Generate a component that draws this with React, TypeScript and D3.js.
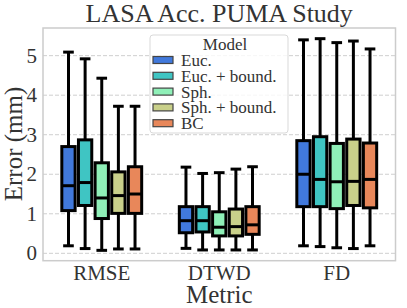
import React from "react";
import * as d3 from "d3";

const metrics = ["RMSE", "DTWD", "FD"];
const models = ["Euc.", "Euc. + bound.", "Sph.", "Sph. + bound.", "BC"];
const colors = ["#4179dc", "#3fc5c3", "#8ff0b8", "#c9d08a", "#e8875a"];

// per metric, per model
const whiskLow = [
  [0.19, 0.12, 0.075, 0.11, 0.11],
  [0.125, 0.085, 0.085, 0.085, 0.085],
  [0.19, 0.17, 0.14, 0.12, 0.19],
];
const q1 = [
  [1.08, 1.21, 0.88, 1.01, 1.01],
  [0.52, 0.54, 0.44, 0.44, 0.48],
  [1.18, 1.18, 1.13, 1.21, 1.15],
];
const medians = [
  [1.71, 1.79, 1.4, 1.46, 1.5],
  [0.825, 0.825, 0.66, 0.675, 0.72],
  [2.0, 1.87, 1.81, 1.82, 1.87],
];
const q3 = [
  [2.7, 2.87, 2.29, 2.06, 2.19],
  [1.18, 1.18, 1.05, 1.12, 1.18],
  [2.85, 2.95, 2.78, 2.89, 2.79],
];
const whiskHigh = [
  [5.09, 4.92, 4.43, 3.72, 3.72],
  [2.18, 2.02, 2.04, 2.13, 2.19],
  [5.4, 5.43, 5.33, 5.37, 5.17],
];
const yTicks = [0, 1, 2, 3, 4, 5];

const W = 407, H = 308;
const left = 43, right = 395.5, top = 28, bottom = 260.7;
const serif = { fontFamily: "'Liberation Serif', 'Times New Roman', Times, serif" };

export default function App() {
  const x = d3.scaleBand().domain(metrics).range([left, right]).paddingInner(0.292).paddingOuter(0.146);
  const xi = d3.scaleBand().domain(models).range([0, x.bandwidth()]).paddingInner(0.2).paddingOuter(0.1);
  const y = d3.scaleLinear().domain([-0.187, 5.7]).range([bottom, top]);
  const midX = (left + right) / 2;

  return (
    <svg width={W} height={H} style={{ position: "absolute", left: 0, top: 0, background: "#fff" }}>
      {/* grid */}
      {yTicks.map((t) => (
        <line key={t} x1={left} x2={right} y1={y(t)} y2={y(t)} stroke="#cfcfcf" strokeWidth={1} strokeDasharray="4,2" />
      ))}
      <rect x={left} y={top} width={right - left} height={bottom - top} fill="none" stroke="#cccccc" strokeWidth={1.5} />

      {/* boxes */}
      {metrics.map((m, mi) =>
        models.map((md, k) => {
          const x0 = (x(m) as number) + (xi(md) as number);
          const bw = xi.bandwidth();
          const cx = x0 + bw / 2;
          const capHalf = bw * 0.4;
          return (
            <g key={m + md} stroke="#000" strokeWidth={3}>
              <line x1={cx} x2={cx} y1={y(whiskLow[mi][k])} y2={y(q1[mi][k])} />
              <line x1={cx} x2={cx} y1={y(q3[mi][k])} y2={y(whiskHigh[mi][k])} />
              <line x1={cx - capHalf} x2={cx + capHalf} y1={y(whiskLow[mi][k])} y2={y(whiskLow[mi][k])} />
              <line x1={cx - capHalf} x2={cx + capHalf} y1={y(whiskHigh[mi][k])} y2={y(whiskHigh[mi][k])} />
              <rect x={x0} y={y(q3[mi][k])} width={bw} height={y(q1[mi][k]) - y(q3[mi][k])} fill={colors[k]} strokeLinejoin="miter" />
              <line x1={x0} x2={x0 + bw} y1={y(medians[mi][k])} y2={y(medians[mi][k])} />
            </g>
          );
        })
      )}

      {/* y ticks */}
      {yTicks.map((t) => (
        <text key={t} x={37} y={y(t) + 7} textAnchor="end" fontSize={21} fill="#333" style={serif}>{t}</text>
      ))}
      {/* x ticks */}
      {metrics.map((m) => (
        <text key={m} x={(x(m) as number) + x.bandwidth() / 2} y={280} textAnchor="middle" fontSize={21} fill="#333" style={serif}>{m}</text>
      ))}

      <text x={midX} y={22} textAnchor="middle" fontSize={26} fill="#333" style={serif}>LASA Acc. PUMA Study</text>
      <text x={midX} y={303} textAnchor="middle" fontSize={25} fill="#333" style={serif}>Metric</text>
      <text transform={`translate(22,144) rotate(-90)`} textAnchor="middle" fontSize={25} fill="#333" style={serif}>Error (mm)</text>

      {/* legend */}
      <g>
        <rect x={150} y={35} width={138} height={98} rx={3} fill="#fff" fillOpacity={0.8} stroke="#d9d9d9" strokeWidth={1} />
        <text x={225} y={50} textAnchor="middle" fontSize={17} fill="#333" style={serif}>Model</text>
        {models.map((md, k) => {
          const ry = 60 + k * 15.8;
          return (
            <g key={md}>
              <rect x={153} y={ry - 3.5} width={20} height={7} fill={colors[k]} stroke="#444" strokeWidth={1.2} />
              <text x={181} y={ry + 6} fontSize={17} fill="#333" style={serif}>{md}</text>
            </g>
          );
        })}
      </g>
    </svg>
  );
}
